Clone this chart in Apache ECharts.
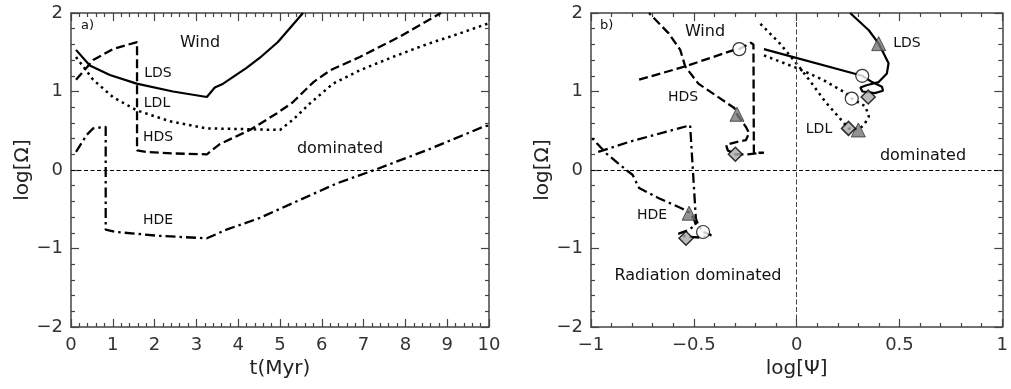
<!DOCTYPE html>
<html>
<head>
<meta charset="utf-8">
<script src="https://cdn.jsdelivr.net/npm/echarts@6/dist/echarts.min.js"></script>
<style>
html,body{margin:0;padding:0;background:#fff;}
#chart{width:1011px;height:389px;}
</style>
</head>
<body>
<div id="chart"></div>
<script>
// ---------- Panel a: log[Omega] vs t(Myr) ----------
const ldsTime   = [0.12, 0.45, 0.93, 1.57, 2.44, 3.25, 3.44, 3.64, 4.2, 4.52, 4.95, 5.55];
const ldsOmegaA = [1.53, 1.33, 1.21, 1.10, 1.00, 0.93, 1.05, 1.10, 1.30, 1.43, 1.63, 2.0];

const hdsTime   = [0.12, 0.53, 1.0, 1.58, 1.58, 1.81, 2.5, 3.25, 3.56, 4.28, 4.92, 5.3, 5.8, 6.2, 6.91, 7.87, 8.85];
const hdsOmegaA = [1.15, 1.40, 1.54, 1.63, 0.25, 0.23, 0.21, 0.20, 0.33, 0.51, 0.72, 0.86, 1.12, 1.27, 1.44, 1.70, 2.0];

const ldlTime   = [0.12, 0.53, 1.0, 1.57, 2.37, 3.25, 4.2, 5.0, 5.31, 5.72, 6.27, 6.91, 7.7, 8.5, 9.3, 10.0];
const ldlOmegaA = [1.44, 1.15, 0.93, 0.76, 0.62, 0.53, 0.52, 0.51, 0.64, 0.85, 1.10, 1.27, 1.44, 1.60, 1.74, 1.87];

const hdeTime   = [0.12, 0.38, 0.53, 0.83, 0.83, 1.09, 2.13, 3.25, 3.72, 4.52, 5.48, 6.36, 7.31, 8.5, 9.86, 10.0];
const hdeOmegaA = [0.23, 0.45, 0.53, 0.55, -0.76, -0.79, -0.84, -0.87, -0.76, -0.61, -0.38, -0.17, 0.01, 0.25, 0.55, 0.57];

// ---------- Panel b: log[Omega] vs log[Psi] ----------
const ldsPsi    = [-0.159, 0.319, 0.367, 0.415, 0.42, 0.38, 0.32, 0.31, 0.34, 0.399, 0.439, 0.447, 0.415, 0.399, 0.351, 0.26];
const ldsOmegaB = [1.54, 1.20, 1.12, 1.06, 1.01, 0.98, 1.0, 1.05, 1.08, 1.12, 1.23, 1.36, 1.53, 1.61, 1.78, 2.0];

const ldlPsi    = [-0.159, 0.0, 0.128, 0.239, 0.268, 0.335, 0.351, 0.327, 0.30, 0.252, 0.203, 0.139, 0.075, 0.011, -0.081, -0.183];
const ldlOmegaB = [1.46, 1.30, 1.15, 0.98, 0.91, 0.81, 0.68, 0.57, 0.52, 0.53, 0.68, 0.87, 1.10, 1.32, 1.61, 1.88];

const hdsPsi    = [-0.766, -0.542, -0.303, -0.279, -0.223, -0.210, -0.208, -0.159, -0.239, -0.298, -0.335, -0.343, -0.303, -0.247, -0.231, -0.247, -0.29, -0.303, -0.478, -0.542, -0.566, -0.622, -0.718];
const hdsOmegaB = [1.15, 1.32, 1.53, 1.54, 1.62, 1.60, 0.22, 0.22, 0.20, 0.20, 0.25, 0.32, 0.35, 0.38, 0.47, 0.55, 0.71, 0.79, 1.10, 1.32, 1.53, 1.74, 2.0];

const hdePsi    = [-0.965, -0.813, -0.518, -0.49, -0.478, -0.455, -0.415, -0.47, -0.539, -0.574, -0.53, -0.49, -0.50, -0.523, -0.558, -0.67, -0.766, -0.798, -0.829, -0.925, -1.0];
const hdeOmegaB = [0.23, 0.36, 0.57, -0.62, -0.70, -0.79, -0.83, -0.86, -0.85, -0.81, -0.77, -0.70, -0.62, -0.54, -0.49, -0.36, -0.23, -0.06, 0.0, 0.21, 0.42];

// markers (LDS, LDL, HDS, HDE)
const circlePsi     = [0.319, 0.268, -0.279, -0.455];
const circleOmega   = [1.20, 0.91, 1.54, -0.79];
const trianglePsi   = [0.399, 0.30, -0.29, -0.523];
const triangleOmega = [1.61, 0.51, 0.71, -0.55];
const diamondPsi    = [0.348, 0.252, -0.298, -0.538];
const diamondOmega  = [0.93, 0.53, 0.20, -0.87];

const yTicks = [-2, -1, 0, 1, 2];

const zip = (a, b) => a.map((v, i) => [v, b[i]]);
const minus = v => String(v).replace('-', '\u2212');

const FONT = '"DejaVu Sans", sans-serif';
const AX = '#444';

function xAxisDef(grid, min, max, interval, name, pos, showLabel) {
  return {
    type: 'value', gridIndex: grid, min, max, interval, position: pos,
    name: showLabel ? name : '', nameLocation: 'middle', nameGap: 32,
    nameTextStyle: {fontFamily: FONT, fontSize: 20, color: '#222'},
    axisLine: {show: true, onZero: false, lineStyle: {color: AX, width: 1.5}},
    axisTick: {show: true, inside: true, length: 8, lineStyle: {color: AX, width: 1.2}},
    minorTick: {show: true, splitNumber: 5, length: 4, lineStyle: {color: AX, width: 1.2}},
    axisLabel: {show: showLabel, fontFamily: FONT, fontSize: 18, color: '#333', margin: 9,
                formatter: minus, showMinLabel: true, showMaxLabel: true},
    splitLine: {show: false}, minorSplitLine: {show: false}
  };
}
function yAxisDef(grid, pos, showLabel) {
  return {
    type: 'value', gridIndex: grid, min: yTicks[0], max: yTicks[yTicks.length - 1], interval: 1, position: pos,
    name: showLabel ? 'log[Ω]' : '', nameLocation: 'middle', nameGap: 36, nameRotate: 90,
    nameTextStyle: {fontFamily: FONT, fontSize: 20, color: '#222'},
    axisLine: {show: true, onZero: false, lineStyle: {color: AX, width: 1.5}},
    axisTick: {show: true, inside: true, length: 8, lineStyle: {color: AX, width: 1.2}},
    minorTick: {show: true, splitNumber: 5, length: 4, lineStyle: {color: AX, width: 1.2}},
    axisLabel: {show: showLabel, fontFamily: FONT, fontSize: 18, color: '#333', margin: 8,
                formatter: minus, showMinLabel: true, showMaxLabel: true},
    splitLine: {show: false}, minorSplitLine: {show: false}
  };
}

const styles = {
  solid:   {type: 'solid', width: 2.2},
  dashed:  {type: [9, 4], width: 2.3},
  dotted:  {type: [2.5, 4], width: 2.5},
  dashdot: {type: [10, 4, 2.5, 4], width: 2.3}
};
function lineSeries(name, xi, yi, data, style, extra) {
  return Object.assign({
    name, type: 'line', xAxisIndex: xi, yAxisIndex: yi, data,
    showSymbol: false, symbol: 'none', clip: true, silent: true, animation: false,
    lineStyle: Object.assign({color: '#000'}, style)
  }, extra || {});
}
const refLine = {type: [4, 2.5], width: 1, color: '#000'};

const series = [
  lineSeries('LDS a', 0, 0, zip(ldsTime, ldsOmegaA), styles.solid, {
    markLine: {silent: true, symbol: 'none', label: {show: false}, lineStyle: refLine, data: [{yAxis: 0}], animation: false}
  }),
  lineSeries('HDS a', 0, 0, zip(hdsTime, hdsOmegaA), styles.dashed),
  lineSeries('LDL a', 0, 0, zip(ldlTime, ldlOmegaA), styles.dotted),
  lineSeries('HDE a', 0, 0, zip(hdeTime, hdeOmegaA), styles.dashdot),

  lineSeries('LDS b', 2, 2, zip(ldsPsi, ldsOmegaB), styles.solid, {
    markLine: {silent: true, symbol: 'none', label: {show: false}, animation: false,
      data: [{yAxis: 0, lineStyle: refLine}, {xAxis: 0, lineStyle: {type: [5, 2.5], width: 1, color: '#444'}}]}
  }),
  lineSeries('LDL b', 2, 2, zip(ldlPsi, ldlOmegaB), styles.dotted),
  lineSeries('HDS b', 2, 2, zip(hdsPsi, hdsOmegaB), styles.dashed),
  lineSeries('HDE b', 2, 2, zip(hdePsi, hdeOmegaB), styles.dashdot),

  {type: 'scatter', xAxisIndex: 2, yAxisIndex: 2, data: zip(circlePsi, circleOmega), symbol: 'circle', symbolSize: 13,
   itemStyle: {color: '#fff', borderColor: '#000', borderWidth: 1.2}, z: 5, silent: true, animation: false},
  {type: 'scatter', xAxisIndex: 2, yAxisIndex: 2, data: zip(trianglePsi, triangleOmega), symbol: 'triangle', symbolSize: 14,
   itemStyle: {color: '#777', borderColor: '#333', borderWidth: 1}, z: 5, silent: true, animation: false},
  {type: 'scatter', xAxisIndex: 2, yAxisIndex: 2, data: zip(diamondPsi, diamondOmega), symbol: 'diamond', symbolSize: 14,
   itemStyle: {color: '#aaaaaa', borderColor: '#000', borderWidth: 1.5}, z: 5, silent: true, animation: false}
];

function txt(text, x, y, size, align) {
  return {type: 'text', x, y, silent: true, z: 10,
    style: {text, font: size + 'px ' + FONT, fill: '#111', textAlign: align || 'center', textVerticalAlign: 'middle',
            align: align || 'center', verticalAlign: 'middle'}};
}

const option = {
  animation: false,
  backgroundColor: '#fff',
  grid: [
    {left: 71, top: 13, width: 418, height: 314, containLabel: false},
    {left: 591, top: 13, width: 418, height: 314, containLabel: false}
  ],
  xAxis: [
    xAxisDef(0, 0, 10, 1, 't(Myr)', 'bottom', true),
    xAxisDef(0, 0, 10, 1, '', 'top', false),
    xAxisDef(1, -1, 1, 0.5, 'log[Ψ]', 'bottom', true),
    xAxisDef(1, -1, 1, 0.5, '', 'top', false)
  ],
  yAxis: [
    yAxisDef(0, 'left', true),
    yAxisDef(0, 'right', false),
    yAxisDef(1, 'left', true),
    yAxisDef(1, 'right', false)
  ],
  series,
  graphic: [
    txt('a)', 81, 26, 13, 'left'),
    txt('Wind', 200, 43, 16),
    txt('LDS', 158, 73, 14),
    txt('LDL', 157, 103, 14),
    txt('HDS', 158, 137, 14),
    txt('dominated', 340, 149, 16),
    txt('HDE', 158, 220, 14),
    txt('b)', 600, 26, 13, 'left'),
    txt('Wind', 705, 32, 16),
    txt('HDS', 683, 97, 14),
    txt('LDS', 907, 43, 14),
    txt('LDL', 819, 129, 14),
    txt('dominated', 923, 156, 16),
    txt('HDE', 652, 215, 14),
    txt('Radiation dominated', 698, 276, 16)
  ]
};

const chart = echarts.init(document.getElementById('chart'), null, {renderer: 'canvas'});
chart.setOption(option);
</script>
</body>
</html>
